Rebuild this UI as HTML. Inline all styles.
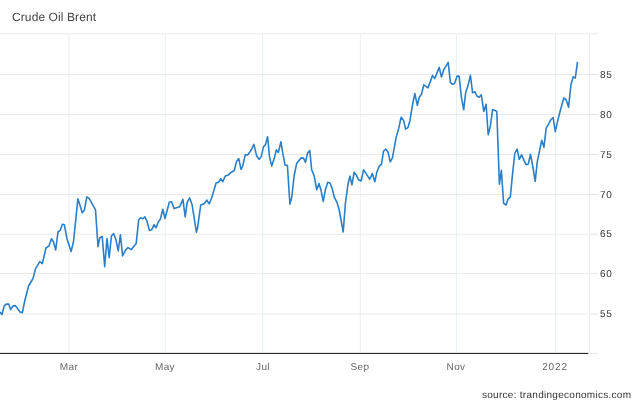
<!DOCTYPE html><html><head><meta charset="utf-8"><style>
html,body{margin:0;padding:0;background:#fff;}
body{width:640px;height:402px;overflow:hidden;position:relative;font-family:"Liberation Sans",sans-serif;}
.t{position:absolute;white-space:nowrap;line-height:1;will-change:transform;text-rendering:geometricPrecision;}
.title{left:11.6px;top:11px;font-size:12px;color:#444;letter-spacing:0.1px;}
.yl{font-size:10px;color:#333;left:600px;letter-spacing:0.6px;}
.xl{font-size:10px;color:#666;transform:translateX(-50%);top:363px;letter-spacing:0.35px;}
.src{font-size:10px;color:#333;left:481.6px;top:390.6px;letter-spacing:0.28px;}
</style></head><body>
<svg width="640" height="402" viewBox="0 0 640 402" style="position:absolute;left:0;top:0" shape-rendering="crispEdges">
<rect shape-rendering="geometricPrecision" x="68.55" y="34" width="1.1" height="318" fill="#eaf0f4"/>
<rect shape-rendering="geometricPrecision" x="164.75" y="34" width="1.1" height="318" fill="#eaf0f4"/>
<rect shape-rendering="geometricPrecision" x="262.15" y="34" width="1.1" height="318" fill="#eaf0f4"/>
<rect shape-rendering="geometricPrecision" x="359.75" y="34" width="1.1" height="318" fill="#eaf0f4"/>
<rect shape-rendering="geometricPrecision" x="455.95" y="34" width="1.1" height="318" fill="#eaf0f4"/>
<rect shape-rendering="geometricPrecision" x="554.85" y="34" width="1.1" height="318" fill="#eaf0f4"/>
<rect shape-rendering="geometricPrecision" x="0" y="33.3" width="588" height="1" fill="#eaeaea"/>
<rect shape-rendering="geometricPrecision" x="590" y="33.3" width="8" height="1" fill="#e5e5e5"/>
<rect shape-rendering="geometricPrecision" x="0" y="74" width="588" height="1" fill="#eaeaea"/>
<rect shape-rendering="geometricPrecision" x="590" y="74" width="8" height="1" fill="#e5e5e5"/>
<rect shape-rendering="geometricPrecision" x="0" y="114" width="588" height="1" fill="#eaeaea"/>
<rect shape-rendering="geometricPrecision" x="590" y="114" width="8" height="1" fill="#e5e5e5"/>
<rect shape-rendering="geometricPrecision" x="0" y="154" width="588" height="1" fill="#eaeaea"/>
<rect shape-rendering="geometricPrecision" x="590" y="154" width="8" height="1" fill="#e5e5e5"/>
<rect shape-rendering="geometricPrecision" x="0" y="194" width="588" height="1" fill="#eaeaea"/>
<rect shape-rendering="geometricPrecision" x="590" y="194" width="8" height="1" fill="#e5e5e5"/>
<rect shape-rendering="geometricPrecision" x="0" y="233.7" width="588" height="1" fill="#eaeaea"/>
<rect shape-rendering="geometricPrecision" x="590" y="233.7" width="8" height="1" fill="#e5e5e5"/>
<rect shape-rendering="geometricPrecision" x="0" y="273" width="588" height="1" fill="#eaeaea"/>
<rect shape-rendering="geometricPrecision" x="590" y="273" width="8" height="1" fill="#e5e5e5"/>
<rect shape-rendering="geometricPrecision" x="0" y="313.5" width="588" height="1" fill="#eaeaea"/>
<rect shape-rendering="geometricPrecision" x="590" y="313.5" width="8" height="1" fill="#e5e5e5"/>
<rect x="590" y="353" width="8" height="1" fill="#e5e5e5"/>
<rect x="589" y="33" width="1" height="320" fill="#ebebeb"/>
<rect shape-rendering="geometricPrecision" x="0" y="352.9" width="588.4" height="1" fill="#111"/>
<polyline shape-rendering="geometricPrecision" fill="none" stroke="#2a7fc8" stroke-width="1.6" stroke-linejoin="round" stroke-linecap="butt" points="0.0,312.1 2.0,314.6 4.2,305.9 6.2,304.1 8.7,304.1 10.7,309.6 13.0,305.9 15.4,305.6 20.0,312.0 22.4,312.6 25.0,299.7 28.6,286.0 33.0,278.5 35.6,268.6 39.8,261.6 42.3,263.6 46.0,248.0 48.8,246.2 51.5,238.7 53.5,242.0 55.7,250.0 58.0,232.0 60.2,230.3 62.4,224.3 64.4,224.8 66.9,238.5 71.1,251.6 73.6,241.0 77.9,198.7 82.3,212.8 84.3,210.3 86.8,196.9 89.3,198.7 95.5,209.9 98.0,246.7 99.8,237.7 102.2,236.5 104.7,266.6 107.0,238.5 109.2,257.6 111.4,236.0 113.7,233.5 115.9,239.7 118.2,250.9 120.4,234.7 122.6,255.9 125.5,250.1 128.0,247.6 131.2,249.6 136.2,243.4 138.7,219.8 140.6,217.8 142.9,218.8 144.9,216.8 146.9,221.0 149.4,230.4 151.8,229.7 154.1,224.7 156.1,227.7 158.1,222.2 160.3,219.3 162.8,209.3 165.0,218.5 169.3,202.3 171.7,201.8 174.0,208.6 179.7,206.8 182.9,199.4 185.2,216.8 187.2,202.3 189.7,197.9 192.1,204.8 196.4,232.2 197.5,228.3 200.7,205.1 204.4,203.4 206.9,200.1 209.2,203.9 211.9,197.2 216.1,183.0 218.6,182.2 220.8,178.8 222.8,181.7 225.3,176.0 227.8,175.3 230.5,172.8 234.3,170.5 236.5,161.6 238.8,158.6 241.0,169.3 242.7,166.1 245.2,154.9 247.7,154.9 250.9,150.6 253.9,144.4 256.7,156.1 259.2,159.4 261.4,156.1 263.4,146.9 265.4,144.9 267.6,136.7 269.5,156.9 271.7,166.1 274.2,158.6 276.4,149.9 278.4,152.4 280.9,141.9 283.1,154.9 285.1,165.3 287.4,165.3 289.9,204.1 291.8,197.2 294.1,176.0 296.6,163.6 301.0,157.9 303.5,158.1 305.5,162.3 307.5,153.1 309.8,150.6 311.7,169.8 314.2,176.0 316.7,189.7 319.0,183.5 320.9,189.7 323.2,201.4 325.4,189.7 327.7,182.2 330.1,183.0 332.1,188.5 334.4,197.5 336.9,202.2 339.0,209.0 343.2,232.0 345.4,203.4 347.9,184.8 349.9,176.1 351.9,184.8 354.1,172.3 356.6,175.6 358.6,179.8 361.1,181.0 363.6,169.9 366.1,173.6 369.8,179.3 372.3,173.6 374.8,181.8 376.8,172.3 379.3,166.1 381.5,164.1 383.5,151.2 385.7,149.0 388.0,151.9 390.2,161.9 392.4,157.9 394.7,145.5 396.2,137.1 398.7,128.4 401.1,117.2 403.6,120.4 405.6,129.1 407.9,127.6 409.9,120.9 412.3,106.0 414.8,93.5 417.3,105.2 419.3,97.3 421.5,94.3 423.8,84.8 428.0,87.8 430.5,81.1 432.5,75.4 434.7,78.6 436.7,73.6 439.2,67.4 441.4,76.9 443.7,69.9 448.2,62.4 450.4,82.3 452.6,84.3 454.6,83.6 457.1,76.1 459.1,76.1 461.4,97.3 463.7,109.7 465.7,92.3 467.9,86.1 470.4,75.4 472.6,92.8 474.9,91.8 476.9,96.0 479.1,97.3 481.3,94.8 483.8,111.4 486.1,104.2 488.2,134.8 490.5,125.4 492.6,109.5 494.7,110.4 496.8,111.5 499.4,184.1 501.4,170.4 503.6,203.3 506.1,205.0 508.1,198.8 510.3,197.1 512.6,173.4 514.8,153.5 517.1,149.1 519.3,159.3 521.5,154.8 523.8,159.8 526.0,164.7 528.3,164.0 530.5,154.3 532.7,166.0 535.2,181.4 537.2,162.2 541.7,140.3 543.9,147.3 546.2,128.2 548.5,124.1 551.0,119.5 553.1,117.5 555.3,131.7 557.5,121.6 559.9,112.0 561.8,105.2 563.8,98.0 566.1,99.7 568.6,107.2 571.0,84.3 573.3,76.8 575.3,78.1 577.5,61.9"/>
</svg>
<div class="t title">Crude Oil Brent</div>
<div class="t yl" style="top:71px">85</div>
<div class="t yl" style="top:111px">80</div>
<div class="t yl" style="top:151px">75</div>
<div class="t yl" style="top:191px">70</div>
<div class="t yl" style="top:230px">65</div>
<div class="t yl" style="top:270px">60</div>
<div class="t yl" style="top:310px">55</div>
<div class="t xl" style="left:69.4px;">Mar</div>
<div class="t xl" style="left:165.4px;">May</div>
<div class="t xl" style="left:263.4px;">Jul</div>
<div class="t xl" style="left:360.4px;">Sep</div>
<div class="t xl" style="left:456.4px;">Nov</div>
<div class="t xl" style="left:555.4px;letter-spacing:0.85px;">2022</div>
<div class="t src">source: trandingeconomics.com</div>
</body></html>
